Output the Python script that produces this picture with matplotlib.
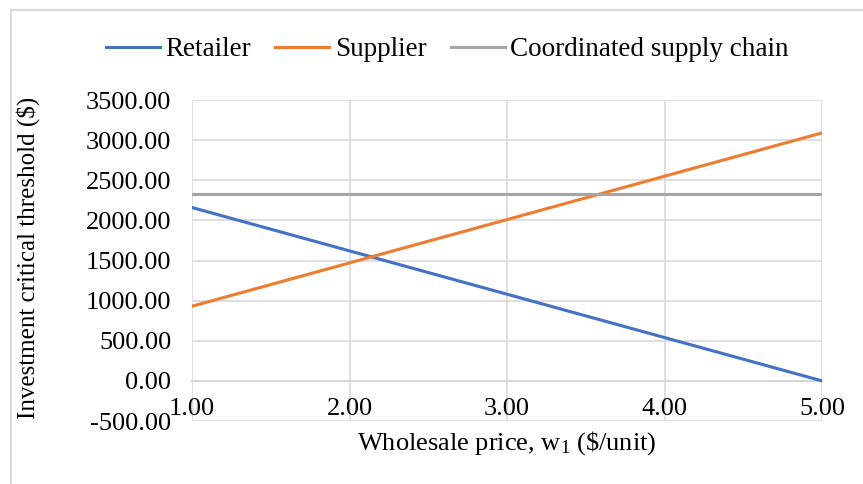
import numpy as np
import matplotlib
matplotlib.use("Agg")
import matplotlib.pyplot as plt
from matplotlib.patches import Rectangle

# data
wholesale = [1.0, 2.0, 3.0, 4.0, 5.0]
retailer = [2160, 1620, 1080, 540, 0]
supplier = [930, 1470, 2010, 2550, 3090]
coordinated = [2330, 2330, 2330, 2330, 2330]

plt.rcParams['font.family'] = ['Liberation Serif', 'DejaVu Serif']
plt.rcParams['mathtext.fontset'] = 'custom'
plt.rcParams['mathtext.rm'] = 'Liberation Serif'
plt.rcParams['mathtext.it'] = 'Liberation Serif:italic'

fig = plt.figure(figsize=(8.63, 4.84), dpi=100)
W, H = 863, 484

# chart border like Excel
fig.patches.append(Rectangle((11 / W, -0.1), 1.2, 1 - 10 / H + 0.1, transform=fig.transFigure,
                             fill=False, edgecolor='#d9d9d9', linewidth=1.5))

ax = fig.add_axes([192 / W, 1 - 421 / H, 630 / W, 321 / H])

ax.plot(wholesale, retailer, color='#4472c4', lw=2.25, label='Retailer')
ax.plot(wholesale, supplier, color='#ed7d31', lw=2.25, label='Supplier')
ax.plot(wholesale, coordinated, color='#a5a5a5', lw=2.25, label='Coordinated supply chain')

ax.set_xlim(1, 5)
ax.set_ylim(-500, 3500)
ax.set_xticks(np.arange(1, 5.01, 1))
ax.set_yticks(np.arange(-500, 3501, 500))
ax.xaxis.set_major_formatter(matplotlib.ticker.FormatStrFormatter('%.2f'))
ax.yaxis.set_major_formatter(matplotlib.ticker.FormatStrFormatter('%.2f'))

ax.grid(True, color='#d9d9d9', lw=1.2)
ax.set_axisbelow(True)
for s in ax.spines.values():
    s.set_visible(False)
ax.spines['bottom'].set_visible(True)
ax.spines['bottom'].set_position(('data', 0))
ax.spines['bottom'].set_color('#bfbfbf')
ax.spines['bottom'].set_linewidth(1.2)
ax.spines['bottom'].set_zorder(0.5)

ax.tick_params(axis='both', length=0, labelsize=19, colors='black')
ax.tick_params(axis='x', pad=12)
ax.tick_params(axis='y', pad=15)

ax.set_xlabel(r'Wholesale price, w$_{1}$ (\$/unit)', fontsize=19, va='top')
ax.xaxis.set_label_coords(0.5, -0.025)
ax.set_ylabel('Investment critical threshold ($)', fontsize=18, va='center')
ax.yaxis.set_label_coords(-0.26, 0.508)

ax.legend(loc='center', bbox_to_anchor=(0.405, 1.157), ncol=3, frameon=False,
          fontsize=19.5, handlelength=2.0, handletextpad=0.2, columnspacing=0.9,
          borderpad=0, borderaxespad=0)

fig.savefig('out.png', dpi=100)
